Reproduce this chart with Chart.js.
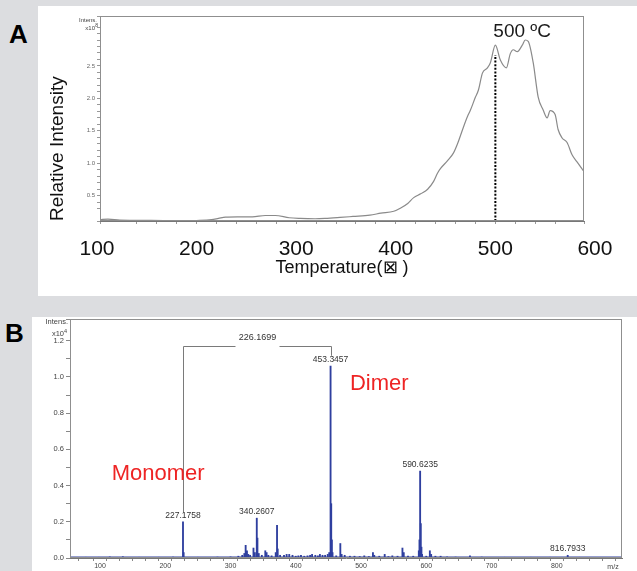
<!DOCTYPE html>
<html>
<head>
<meta charset="utf-8">
<script src="https://cdn.jsdelivr.net/npm/chart.js@4.4.1/dist/chart.umd.min.js"></script>
<style>
  html, body { margin: 0; padding: 0; }
  body { width: 637px; height: 571px; background: #dcdde0; position: relative; overflow: hidden;
         font-family: "Liberation Sans", Arial, sans-serif; }
  .panel { position: absolute; background: #ffffff; }
  .letter { position: absolute; font-weight: bold; font-size: 26px; line-height: 26px; color: #000; }
  canvas { position: absolute; left: 0; top: 0; }
</style>
</head>
<body>
<div class="panel" style="left:38px;top:6px;width:599px;height:290px;"></div>
<div class="panel" style="left:32px;top:317px;width:605px;height:254px;"></div>
<div class="letter" style="left:9px;top:21px;">A</div>
<div class="letter" style="left:5px;top:320px;">B</div>
<canvas id="cA" width="637" height="571"></canvas>
<canvas id="cB" width="637" height="571"></canvas>
<script>
// ---------- Panel A data: temperature-resolved intensity ----------
const tempC = [103,111,123,154,185,200,215,222,229,241,256,269,279,293,304,319,329,344,357,374,385,398,405,412,418,425,432,438,442,445,452,458,462,468,472,475,480,483,487,492,495,500,505,511,515,518,522,527,530,533,538,543,548,552,555,560,563,567,572,577,582,589];
const relIntensity = [0.13,0.14,0.125,0.12,0.115,0.118,0.13,0.15,0.17,0.175,0.175,0.195,0.195,0.16,0.15,0.145,0.15,0.165,0.18,0.2,0.23,0.26,0.31,0.38,0.47,0.53,0.6,0.72,0.85,0.92,1.04,1.16,1.3,1.56,1.72,1.82,2.02,2.13,2.39,2.47,2.55,2.82,2.59,2.47,2.69,2.75,2.72,2.82,2.9,2.88,2.55,2.02,1.82,1.70,1.81,1.75,1.52,1.39,1.32,1.13,1.02,0.87];
const tempTicks = [100,200,300,400,500,600];
const peakTemp = 500;
const peakMarker = [0.11, 2.67];
const peakTempLabel = '500 ºC';

// ---------- Panel B data: mass spectrum ----------
const mzPeaks = [78,98,115,135,160,190,212,227.1758,228.18,250,280,300,312,318,321.2,323.2,325.2,327.2,330,335.2,337.3,340.2607,341.26,343.3,348,353.3,355.3,358,363,369.3,371.3,372.3,376,382,386,390,395,400,404,408,413,418,422,425,430,434,437,441,445,449,451.3,453.3457,454.35,455.35,456.35,462,468.3,470.3,475,483,490,498,505,512,518.3,520.3,528,536.3,542,548,556,563.5,565.5,572,580,588.6,589.6,590.6235,591.62,592.62,593.6,600,605.5,607.5,614,622,632,645,667,685,720,760,790,816.7933,835,860];
const mzIntensity = [0.004,0.004,0.006,0.007,0.004,0.004,0.005,0.20,0.03,0.004,0.005,0.006,0.01,0.015,0.025,0.07,0.04,0.02,0.015,0.055,0.03,0.22,0.11,0.025,0.015,0.04,0.03,0.015,0.012,0.03,0.18,0.05,0.015,0.015,0.02,0.02,0.015,0.01,0.012,0.015,0.01,0.012,0.015,0.02,0.015,0.012,0.02,0.015,0.015,0.02,0.03,1.06,0.3,0.1,0.03,0.012,0.08,0.02,0.015,0.01,0.01,0.008,0.012,0.008,0.03,0.015,0.01,0.02,0.008,0.012,0.01,0.055,0.03,0.01,0.01,0.04,0.1,0.48,0.19,0.06,0.02,0.01,0.04,0.02,0.01,0.01,0.006,0.005,0.012,0.005,0.004,0.004,0.004,0.015,0.004,0.003];
const mzBaseline = [0.003, 0.003];
const labelledPeaks = [227.1758, 340.2607, 453.3457, 590.6235, 816.7933];
const monomerMz = 227.1758;
const dimerMz = 453.3457;
const mzTicks = [100,200,300,400,500,600,700,800];

const FONT = '"Liberation Sans", Arial, sans-serif';
Chart.defaults.font.family = FONT;

function frame(ctx, a, color) {
  ctx.strokeStyle = color; ctx.lineWidth = 1;
  ctx.strokeRect(Math.round(a.left) + 0.5, Math.round(a.top) + 0.5,
                 Math.round(a.right - a.left) - 1, Math.round(a.bottom - a.top) - 1);
}

// ---------- Chart A ----------
const panelAPlugin = {
  id: 'panelA',
  afterDraw(chart) {
    const {ctx, chartArea: a, scales: {x, y}} = chart;
    ctx.save();
    frame(ctx, a, '#8f8f8f');
    ctx.fillStyle = '#111';
    ctx.font = '21px ' + FONT;
    ctx.textAlign = 'center'; ctx.textBaseline = 'alphabetic';
    tempTicks.forEach(v => ctx.fillText(String(v), x.getPixelForValue(v), a.bottom + 34));
    ctx.font = '19px ' + FONT;
    ctx.textAlign = 'left';
    ctx.fillStyle = '#1a1a1a';
    ctx.fillText(peakTempLabel, x.getPixelForValue(peakTemp) - 2, a.top + 21);
    ctx.fillStyle = '#444';
    ctx.font = '6px ' + FONT;
    ctx.textAlign = 'right';
    ctx.fillText('Intens.', a.left - 3, a.top + 6);
    ctx.fillText('x10', a.left - 5, a.top + 14);
    ctx.font = '5px ' + FONT;
    ctx.fillText('8', a.left - 2, a.top + 11);
    ctx.restore();
  }
};

new Chart(document.getElementById('cA'), {
  type: 'line',
  data: {
    datasets: [
      {
        data: tempC.map((t, i) => ({x: t, y: relIntensity[i]})),
        borderColor: '#8a8a8a', borderWidth: 1.2, pointRadius: 0,
        cubicInterpolationMode: 'monotone'
      },
      {
        data: peakMarker.map(v => ({x: peakTemp, y: v})),
        borderColor: '#000', borderWidth: 2, borderDash: [2, 1.6], pointRadius: 0
      }
    ]
  },
  options: {
    responsive: false, animation: false,
    layout: {padding: {left: 38, top: 16, right: 53, bottom: 275}},
    plugins: {legend: {display: false}, tooltip: {enabled: false}},
    scales: {
      x: {
        type: 'linear', min: 103, max: 589, offset: false,
        afterFit: s => { s.height = 75; },
        ticks: {display: false, stepSize: 20, autoSkip: false},
        grid: {drawOnChartArea: false, drawTicks: true, tickLength: 3, color: '#999'},
        border: {display: true, color: '#777'},
        title: {display: true, text: 'Temperature(⊠ )', color: '#111',
                font: {size: 18}, padding: {top: 0, bottom: 17}}
      },
      y: {
        type: 'linear', min: 0.11, max: 3.27,
        afterFit: s => { s.width = 62; },
        ticks: {
          stepSize: 0.1, autoSkip: false, padding: 2, color: '#666', font: {size: 6},
          callback: v => {
            const h = v * 2;
            return (Math.abs(h - Math.round(h)) < 1e-6 && v > 0.4 && v < 2.6) ? v.toFixed(1) : '';
          }
        },
        grid: {drawOnChartArea: false, drawTicks: true, tickLength: 3, color: '#999'},
        border: {display: true, color: '#777'},
        title: {display: true, text: 'Relative Intensity', align: 'start', color: '#111',
                font: {size: 19}, padding: {top: 8.6, bottom: 0}}
      }
    }
  },
  plugins: [panelAPlugin]
});

// ---------- Chart B ----------
function intensityAt(m) {
  const i = mzPeaks.indexOf(m);
  return i >= 0 ? mzIntensity[i] : 0;
}

const panelBPlugin = {
  id: 'panelB',
  afterDraw(chart) {
    const {ctx, chartArea: a, scales: {x, y}} = chart;
    ctx.save();
    frame(ctx, a, '#8f8f8f');
    // dimer bracket
    const xl = Math.round(x.getPixelForValue(monomerMz)) + 0.5;
    const xr = Math.round(x.getPixelForValue(dimerMz)) + 0.5;
    const yb = Math.round(y.getPixelForValue(1.172)) + 0.5;
    const mid = (xl + xr) / 2;
    ctx.strokeStyle = '#7a7a7a'; ctx.lineWidth = 1;
    ctx.beginPath();
    ctx.moveTo(xl, y.getPixelForValue(0.25));
    ctx.lineTo(xl, yb); ctx.lineTo(mid - 22, yb);
    ctx.moveTo(mid + 22, yb); ctx.lineTo(xr, yb);
    ctx.lineTo(xr, y.getPixelForValue(1.117));
    ctx.stroke();
    ctx.fillStyle = '#333';
    ctx.font = '9px ' + FONT;
    ctx.textAlign = 'center'; ctx.textBaseline = 'middle';
    ctx.fillText((dimerMz - monomerMz).toFixed(4), mid, yb - 9);
    // peak labels
    ctx.font = '8.5px ' + FONT;
    ctx.textBaseline = 'bottom';
    labelledPeaks.forEach(m => {
      ctx.fillText(m.toFixed(4), x.getPixelForValue(m), y.getPixelForValue(intensityAt(m)) - 2);
    });
    // species names
    ctx.fillStyle = '#ee2424';
    ctx.font = '22px ' + FONT;
    ctx.textAlign = 'left'; ctx.textBaseline = 'alphabetic';
    ctx.fillText('Monomer', x.getPixelForValue(118), y.getPixelForValue(0.433));
    ctx.fillText('Dimer', x.getPixelForValue(483), y.getPixelForValue(0.93));
    // axis captions
    ctx.fillStyle = '#444';
    ctx.font = '7.5px ' + FONT;
    ctx.textAlign = 'right'; ctx.textBaseline = 'middle';
    ctx.fillText('Intens.', a.left - 2, a.top + 3);
    ctx.fillText('x10', a.left - 6, a.top + 15);
    ctx.font = '5.5px ' + FONT;
    ctx.fillText('4', a.left - 3, a.top + 12);
    ctx.font = '7px ' + FONT;
    ctx.textAlign = 'center';
    ctx.fillText('m/z', a.right - 9, a.bottom + 9);
    ctx.restore();
  }
};

new Chart(document.getElementById('cB'), {
  type: 'bar',
  data: {
    datasets: [
      {
        type: 'bar',
        data: mzPeaks.map((m, i) => ({x: m, y: mzIntensity[i]})),
        backgroundColor: '#2f3f9f', borderWidth: 0, barThickness: 1.2, grouped: false
      },
      {
        type: 'line',
        data: [{x: 54, y: mzBaseline[0]}, {x: 900, y: mzBaseline[1]}],
        borderColor: '#2f3f9f', borderWidth: 2, pointRadius: 0
      }
    ]
  },
  options: {
    responsive: false, animation: false,
    layout: {padding: {left: 32, top: 319, right: 15, bottom: 0}},
    plugins: {legend: {display: false}, tooltip: {enabled: false}},
    scales: {
      x: {
        type: 'linear', min: 54, max: 900, offset: false,
        afterFit: s => { s.height = 13; },
        ticks: {
          stepSize: 20, autoSkip: false, maxRotation: 0, padding: 1, color: '#444', font: {size: 7},
          callback: v => (v % 100 === 0 && mzTicks.includes(v)) ? String(v) : ''
        },
        grid: {drawOnChartArea: false, drawTicks: true, tickLength: 3, color: '#888'},
        border: {display: true, color: '#777'}
      },
      y: {
        type: 'linear', min: 0, max: 1.32,
        afterFit: s => { s.width = 38; },
        ticks: {
          stepSize: 0.1, autoSkip: false, padding: 2, color: '#444', font: {size: 7.5},
          callback: v => {
            const t = Math.round(v * 10);
            return (Math.abs(v * 10 - t) < 1e-6 && t % 2 === 0 && t <= 12) ? v.toFixed(1) : '';
          }
        },
        grid: {drawOnChartArea: false, drawTicks: true, tickLength: 4, color: '#888'},
        border: {display: true, color: '#777'}
      }
    }
  },
  plugins: [panelBPlugin]
});
</script>
</body>
</html>
